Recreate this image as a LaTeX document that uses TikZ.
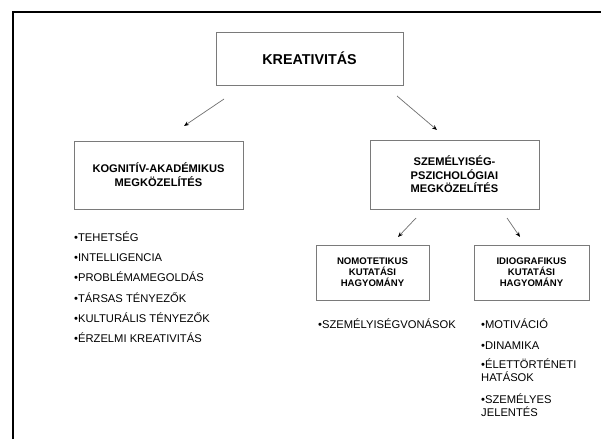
\documentclass[tikz,border=0pt]{standalone}
\usepackage{fontspec}
\setmainfont{Liberation Sans}
\usetikzlibrary{arrows.meta}
\definecolor{boxgray}{HTML}{7A7A7A}
\definecolor{linegray}{HTML}{6E6E6E}
\begin{document}
\begin{tikzpicture}[x=1pt,y=-1pt,
  box/.style={draw=boxgray, line width=0.9pt, inner sep=0pt, align=center,
    font=\bfseries\fontsize{11.1}{14}\selectfont},
  smallbox/.style={box, font=\bfseries\fontsize{9.6}{11}\selectfont},
  conn/.style={draw=linegray, line width=0.7pt,
    -{Stealth[length=5pt,width=4pt,color=black]}},
  item/.style={anchor=base west, inner sep=0pt, align=left,
    font=\fontsize{11.2}{12.5}\selectfont}
]
\useasboundingbox (0,0) rectangle (601,439);

% frame (top and left edges)
\draw[line width=2pt] (13,439) -- (13,12) -- (601,12);

% boxes
\node[box, minimum width=187pt, minimum height=53pt, font=\bfseries\fontsize{14.3}{16}\selectfont]
  (kre) at (309.5,58.5) {KREATIVITÁS};
\node[box, minimum width=169pt, minimum height=68pt]
  (kog) at (158.5,175) {KOGNITÍV-AKADÉMIKUS\\MEGKÖZELÍTÉS};
\node[box, minimum width=169pt, minimum height=69pt, font=\bfseries\fontsize{11.1}{13.5}\selectfont]
  (szem) at (454.5,174.5) {SZEMÉLYISÉG-\\PSZICHOLÓGIAI\\MEGKÖZELÍTÉS};
\node[smallbox, minimum width=113pt, minimum height=55pt]
  (nomo) at (372.5,272.5) {NOMOTETIKUS\\KUTATÁSI\\HAGYOMÁNY};
\node[smallbox, minimum width=115pt, minimum height=55pt]
  (idio) at (531.5,272.5) {IDIOGRAFIKUS\\KUTATÁSI\\HAGYOMÁNY};

% arrow end points
\coordinate (a1s) at (224,99);  \coordinate (a1e) at (184,126);
\coordinate (a2s) at (397,96);  \coordinate (a2e) at (437,130);
\coordinate (a3s) at (416,218); \coordinate (a3e) at (398,237);
\coordinate (a4s) at (507,218); \coordinate (a4e) at (520,237);
\draw[conn] (a1s) -- (a1e);
\draw[conn] (a2s) -- (a2e);
\draw[conn] (a3s) -- (a3e);
\draw[conn] (a4s) -- (a4e);

% left list
\node[item] (l1) at (74,241) {•TEHETSÉG};
\node[item] (l2) at (74,261) {•INTELLIGENCIA};
\node[item] (l3) at (74,281) {•PROBLÉMAMEGOLDÁS};
\node[item] (l4) at (74,302) {•TÁRSAS TÉNYEZŐK};
\node[item] (l5) at (74,322) {•KULTURÁLIS TÉNYEZŐK};
\node[item] (l6) at (74,342) {•ÉRZELMI KREATIVITÁS};

% middle list
\node[item] (m1) at (318,328) {•SZEMÉLYISÉGVONÁSOK};

% right list (two-line items are placed by their last baseline)
\node[item] (r1) at (481,328) {•MOTIVÁCIÓ};
\node[item] (r2) at (481,349) {•DINAMIKA};
\node[item] (r3) at (481,381) {•ÉLETTÖRTÉNETI\\HATÁSOK};
\node[item] (r4) at (481,416) {•SZEMÉLYES\\JELENTÉS};
\end{tikzpicture}
\end{document}
